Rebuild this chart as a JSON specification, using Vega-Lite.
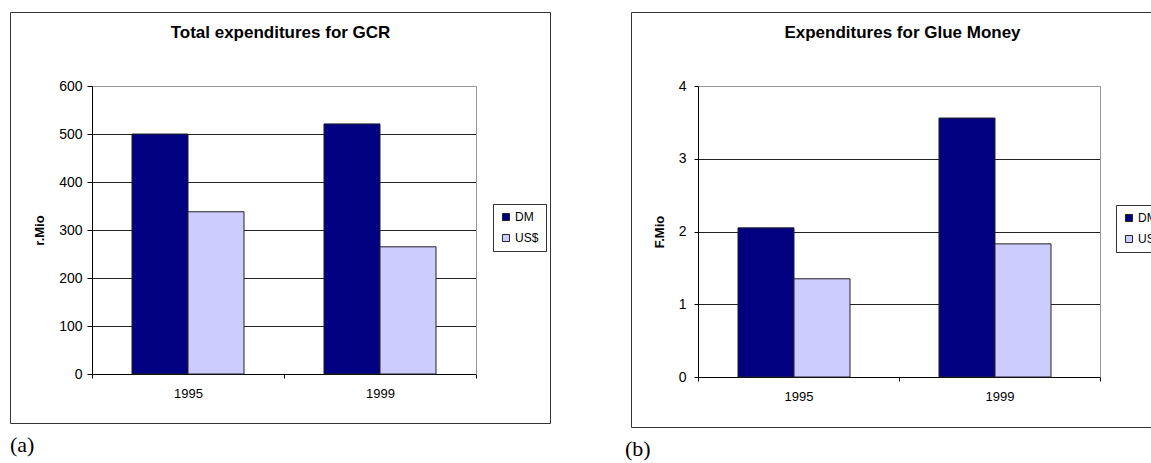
{
  "$schema": "https://vega.github.io/schema/vega-lite/v6.json",
  "padding": {"left": 9, "top": 11, "right": 0, "bottom": 0},
  "background": "white",
  "spacing": 73,
  "resolve": {"scale": {"color": "independent"}, "legend": {"color": "independent"}},
  "config": {
    "font": "Liberation Sans",
    "view": {"stroke": "#333333", "strokeWidth": 1},
    "axis": {"labelFont": "Liberation Sans", "labelColor": "black", "domainColor": "black", "tickColor": "black", "titleColor": "black", "domainWidth": 1, "tickWidth": 1, "gridWidth": 1, "titleFont": "Liberation Sans"},
    "legend": {"labelFont": "Liberation Sans Narrow, Liberation Sans", "labelColor": "black"}
  },
  "hconcat": [
    {
      "width": 540,
      "height": 411,
      "title": {"text": "(a)", "orient": "bottom", "anchor": "start", "font": "Liberation Serif", "fontSize": 22, "fontWeight": "normal", "offset": 12, "color": "black"},
      "data": {"values": [
        {"year": "1995", "currency": "DM", "value": 500},
        {"year": "1995", "currency": "US$", "value": 338},
        {"year": "1999", "currency": "DM", "value": 521},
        {"year": "1999", "currency": "US$", "value": 265}
      ]},
      "resolve": {"axis": {"x": "independent", "y": "independent"}},
      "layer": [
        {
          "mark": {"type": "bar", "stroke": "#222222", "strokeWidth": 1},
          "encoding": {
            "x": {"field": "year", "type": "nominal", "scale": {"range": [82, 466], "paddingInner": 0, "paddingOuter": 0},
              "axis": {"orient": "bottom", "offset": -49, "labelAngle": 0, "tickBand": "extent", "tickSize": 4, "labelPadding": 9, "labelFontSize": 13, "title": null, "grid": false}},
            "xOffset": {"field": "currency", "type": "nominal", "scale": {"paddingInner": 0, "paddingOuter": 0.714}},
            "y": {"field": "value", "type": "quantitative", "scale": {"domain": [0, 600], "range": [362, 74], "nice": false},
              "axis": {"orient": "left", "offset": -82, "values": [0, 100, 200, 300, 400, 500, 600], "tickSize": 5, "labelPadding": 5, "labelFontSize": 14, "title": "r.Mio", "titleFontSize": 13, "titleFontWeight": "bold", "titlePadding": 12, "grid": true,
                "gridColor": {"condition": {"test": "datum.value === 600", "value": "#999999"}, "value": "#222222"}}},
            "color": {"field": "currency", "type": "nominal", "scale": {"domain": ["DM", "US$"], "range": ["#000080", "#CCCCFF"]},
              "legend": {"orient": "none", "legendX": 483, "legendY": 192, "title": null, "symbolType": "square", "symbolSize": 50, "symbolStrokeColor": "#222222", "symbolStrokeWidth": 1, "labelFontSize": 12, "padding": 7, "rowPadding": 9, "labelOffset": 3, "strokeColor": "#333333", "fillColor": "white"}}
          }
        },
        {
          "mark": {"type": "bar", "opacity": 0},
          "encoding": {
            "x": {"field": "year", "type": "nominal",
              "axis": {"orient": "top", "offset": -74, "labels": false, "ticks": false, "domainColor": "#999999", "grid": false, "title": "Total expenditures for GCR", "titleFontSize": 17, "titleFontWeight": "bold", "titleX": 270, "titleY": -54, "titleBaseline": "middle", "titleAlign": "center"}},
            "xOffset": {"field": "currency", "type": "nominal"},
            "y": {"field": "value", "type": "quantitative",
              "axis": {"orient": "right", "offset": -74, "labels": false, "ticks": false, "domainColor": "#999999", "grid": false, "title": null}}
          }
        }
      ]
    },
    {
      "width": 543,
      "height": 415,
      "title": {"text": "(b)", "orient": "bottom", "anchor": "start", "font": "Liberation Serif", "fontSize": 22, "fontWeight": "normal", "offset": 12, "dx": -6, "color": "black"},
      "data": {"values": [
        {"year": "1995", "currency": "DM", "value": 2.05},
        {"year": "1995", "currency": "US$", "value": 1.35},
        {"year": "1999", "currency": "DM", "value": 3.56},
        {"year": "1999", "currency": "US$", "value": 1.83}
      ]},
      "resolve": {"axis": {"x": "independent", "y": "independent"}},
      "layer": [
        {
          "mark": {"type": "bar", "stroke": "#222222", "strokeWidth": 1},
          "encoding": {
            "x": {"field": "year", "type": "nominal", "scale": {"range": [67, 469], "paddingInner": 0, "paddingOuter": 0},
              "axis": {"orient": "bottom", "offset": -50, "labelAngle": 0, "tickBand": "extent", "tickSize": 4, "labelPadding": 9, "labelFontSize": 13, "title": null, "grid": false}},
            "xOffset": {"field": "currency", "type": "nominal", "scale": {"paddingInner": 0, "paddingOuter": 0.7035}},
            "y": {"field": "value", "type": "quantitative", "scale": {"domain": [0, 4], "range": [365, 74], "nice": false},
              "axis": {"orient": "left", "offset": -67, "values": [0, 1, 2, 3, 4], "format": "d", "tickSize": 4, "labelPadding": 8, "labelFontSize": 14, "title": "F.Mio", "titleFontSize": 13, "titleFontWeight": "bold", "titlePadding": 12, "grid": true,
                "gridColor": {"condition": {"test": "datum.value === 4", "value": "#999999"}, "value": "#222222"}}},
            "color": {"field": "currency", "type": "nominal", "scale": {"domain": ["DM", "US$"], "range": ["#000080", "#CCCCFF"]},
              "legend": {"orient": "none", "legendX": 485, "legendY": 193, "title": null, "symbolType": "square", "symbolSize": 50, "symbolStrokeColor": "#222222", "symbolStrokeWidth": 1, "labelFontSize": 12, "padding": 7, "rowPadding": 9, "labelOffset": 3, "strokeColor": "#333333", "fillColor": "white"}}
          }
        },
        {
          "mark": {"type": "bar", "opacity": 0},
          "encoding": {
            "x": {"field": "year", "type": "nominal",
              "axis": {"orient": "top", "offset": -74, "labels": false, "ticks": false, "domainColor": "#999999", "grid": false, "title": "Expenditures for Glue Money", "titleFontSize": 17, "titleFontWeight": "bold", "titleX": 271, "titleY": -54, "titleBaseline": "middle", "titleAlign": "center"}},
            "xOffset": {"field": "currency", "type": "nominal"},
            "y": {"field": "value", "type": "quantitative",
              "axis": {"orient": "right", "offset": -74, "labels": false, "ticks": false, "domainColor": "#999999", "grid": false, "title": null}}
          }
        }
      ]
    }
  ]
}
